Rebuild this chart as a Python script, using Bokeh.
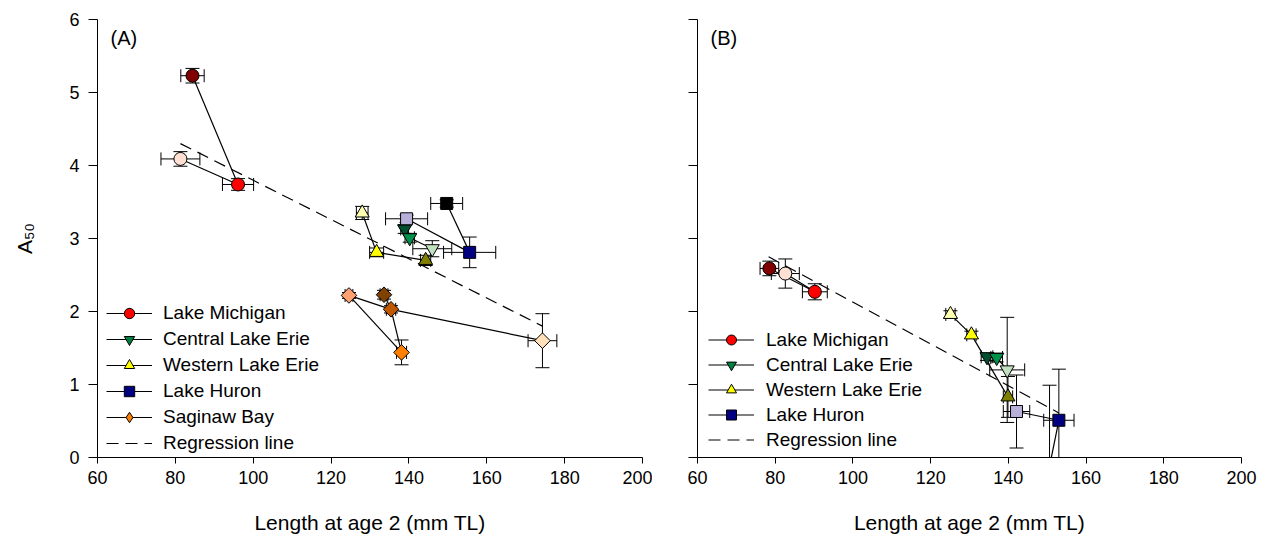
import math
from bokeh.plotting import figure
from bokeh.models import (Range1d, FixedTicker, Legend, LegendItem, Label,
                          CustomJSTickFormatter)
from bokeh.layouts import row
from bokeh.embed import file_html
from bokeh.resources import INLINE

FONT = "Liberation Sans"
NAN = float("nan")

x_ticks = [60, 80, 100, 120, 140, 160, 180, 200]
y_ticks = [0, 1, 2, 3, 4, 5, 6]
x_title = "Length at age 2 (mm TL)"
y_title = "A\u2085\u2080"

# ---------------- Panel A data ----------------
a_mich_x = [84.4, 81.3, 96.1]
a_mich_y = [5.23, 4.09, 3.74]
a_mich_xe = [3.0, 5.0, 4.0]
a_mich_ye = [0.10, 0.10, 0.08]
a_mich_c = ["#800000", "#FFE0D2", "#FF0000"]
a_mich_links = [(0, 2), (1, 2)]

a_cent_x = [138.9, 140.2, 146.0]
a_cent_y = [3.13, 3.01, 2.86]
a_cent_xe = [1.0, 1.2, 5.0]
a_cent_ye = [0.06, 0.06, 0.11]
a_cent_c = ["#005030", "#00904A", "#C0E0C0"]
a_cent_links = [(0, 1), (1, 2)]

a_west_x = [128.0, 131.7, 144.3]
a_west_y = [3.35, 2.81, 2.70]
a_west_xe = [1.5, 1.8, 1.3]
a_west_ye = [0.09, 0.06, 0.07]
a_west_c = ["#FFFFB0", "#FFFF00", "#808000"]
a_west_links = [(0, 1), (1, 2)]

a_huron_x = [149.7, 139.4, 155.6]
a_huron_y = [3.48, 3.27, 2.81]
a_huron_xe = [4.1, 5.4, 6.7]
a_huron_ye = [0.05, 0.05, 0.21]
a_huron_c = ["#000000", "#B8B0D8", "#000080"]
a_huron_links = [(0, 2), (1, 2)]

a_sag_x = [124.6, 133.6, 135.4, 138.1, 174.3]
a_sag_y = [2.22, 2.23, 2.03, 1.44, 1.60]
a_sag_xe = [1.0, 1.0, 1.2, 1.3, 3.7]
a_sag_ye = [0.04, 0.06, 0.05, 0.17, 0.37]
a_sag_c = ["#FFA070", "#804000", "#C05800", "#FF8000", "#FFE0B8"]
a_sag_links = [(0, 2), (0, 3), (2, 3), (2, 4), (1, 2)]

a_reg_x = [81.3, 174.3]
a_reg_y = [4.30, 1.80]

# ---------------- Panel B data ----------------
b_mich_x = [78.5, 82.6, 90.2]
b_mich_y = [2.59, 2.52, 2.27]
b_mich_xe = [2.4, 3.6, 3.2]
b_mich_ye = [0.10, 0.20, 0.11]
b_mich_c = ["#800000", "#FFE0D2", "#FF0000"]
b_mich_links = [(0, 2), (1, 2)]

b_cent_x = [134.5, 137.0, 139.7]
b_cent_y = [1.38, 1.37, 1.20]
b_cent_xe = [1.5, 1.5, 4.5]
b_cent_ye = [0.05, 0.06, 0.72]
b_cent_c = ["#005030", "#00904A", "#C0E0C0"]
b_cent_links = [(0, 1), (1, 2)]

b_west_x = [125.1, 130.5, 139.9]
b_west_y = [1.96, 1.68, 0.83]
b_west_xe = [1.2, 1.2, 1.2]
b_west_ye = [0.05, 0.05, 0.28]
b_west_c = ["#FFFFB0", "#FFFF00", "#808000"]
b_west_links = [(0, 1), (1, 2)]

b_huron_x = [150.6, 142.1, 153.0]
b_huron_y = [-0.12, 0.63, 0.51]
b_huron_xe = [0.0, 3.4, 3.9]
b_huron_ye = [1.11, 0.50, 0.70]
b_huron_c = ["#000000", "#B8B0D8", "#000080"]
b_huron_links = [(0, 2), (1, 2)]

b_reg_x = [78.3, 153.0]
b_reg_y = [2.75, 0.61]

# marker styles: (marker, size, angle, legend colour, legend marker)
STY = {
    "Lake Michigan": ("circle", 13, 0.0, "#FF0000", "circle"),
    "Central Lake Erie": ("inverted_triangle", 14, 0.0, "#008040", "inverted_triangle"),
    "Western Lake Erie": ("triangle", 14, 0.0, "#FFFF00", "triangle"),
    "Lake Huron": ("square", 12, 0.0, "#000080", "square"),
    "Saginaw Bay": ("square", 11, math.pi / 4, "#FF8000", "diamond"),
}

panel_a = [
    ("Lake Michigan", a_mich_x, a_mich_y, a_mich_xe, a_mich_ye, a_mich_c, a_mich_links),
    ("Central Lake Erie", a_cent_x, a_cent_y, a_cent_xe, a_cent_ye, a_cent_c, a_cent_links),
    ("Western Lake Erie", a_west_x, a_west_y, a_west_xe, a_west_ye, a_west_c, a_west_links),
    ("Lake Huron", a_huron_x, a_huron_y, a_huron_xe, a_huron_ye, a_huron_c, a_huron_links),
    ("Saginaw Bay", a_sag_x, a_sag_y, a_sag_xe, a_sag_ye, a_sag_c, a_sag_links),
]
panel_b = [
    ("Lake Michigan", b_mich_x, b_mich_y, b_mich_xe, b_mich_ye, b_mich_c, b_mich_links),
    ("Central Lake Erie", b_cent_x, b_cent_y, b_cent_xe, b_cent_ye, b_cent_c, b_cent_links),
    ("Western Lake Erie", b_west_x, b_west_y, b_west_xe, b_west_ye, b_west_c, b_west_links),
    ("Lake Huron", b_huron_x, b_huron_y, b_huron_xe, b_huron_ye, b_huron_c, b_huron_links),
]


def make_panel(groups, reg_x, reg_y, tag, left_border, right_border, show_ylabels,
               leg_loc, leg_gh, leg_standoff):
    p = figure(frame_width=545 if show_ylabels else 544, frame_height=438,
               x_range=Range1d(60, 200), y_range=Range1d(0, 6),
               output_backend="svg", toolbar_location=None,
               min_border_left=left_border, min_border_right=right_border,
               min_border_top=19, min_border_bottom=70)
    p.outline_line_color = None
    p.grid.visible = False
    p.background_fill_color = "white"
    p.border_fill_color = "white"

    p.xaxis.ticker = FixedTicker(ticks=x_ticks)
    p.yaxis.ticker = FixedTicker(ticks=y_ticks)
    for ax in (p.xaxis[0], p.yaxis[0]):
        ax.axis_line_color = "black"
        ax.axis_line_width = 1
        ax.major_tick_line_color = "black"
        ax.major_tick_in = 0
        ax.minor_tick_line_color = None
        ax.major_label_text_font = FONT
        ax.major_label_text_font_size = "18px"
        ax.major_label_text_color = "black"
        ax.axis_label_text_font = FONT
        ax.axis_label_text_font_style = "normal"
        ax.axis_label_text_color = "black"
        ax.axis_label_text_font_size = "21px"
    p.xaxis.major_tick_out = 6
    p.yaxis.major_tick_out = 9
    p.xaxis.major_label_standoff = 7
    p.yaxis.major_label_standoff = 9
    p.xaxis.axis_label = x_title
    p.xaxis.axis_label_standoff = 24
    if show_ylabels:
        p.yaxis.axis_label = y_title
        p.yaxis.axis_label_standoff = 30
    else:
        p.yaxis.formatter = CustomJSTickFormatter(code="return ''")

    # error bars
    for name, xs, ys, xe, ye, cols, links in groups:
        hx = [i for i in range(len(xs)) if xe[i] > 0]
        p.segment(x0=[xs[i] - xe[i] for i in hx], y0=[ys[i] for i in hx],
                  x1=[xs[i] + xe[i] for i in hx], y1=[ys[i] for i in hx],
                  line_color="black", line_width=1)
        p.scatter(x=[xs[i] - xe[i] for i in hx] + [xs[i] + xe[i] for i in hx],
                  y=[ys[i] for i in hx] * 2, marker="dash", size=13,
                  angle=math.pi / 2, line_color="black", line_width=1)
        p.segment(x0=xs, y0=[a - b for a, b in zip(ys, ye)],
                  x1=xs, y1=[a + b for a, b in zip(ys, ye)],
                  line_color="black", line_width=1)
        p.scatter(x=list(xs) * 2,
                  y=[a - b for a, b in zip(ys, ye)] + [a + b for a, b in zip(ys, ye)],
                  marker="dash", size=14, line_color="black", line_width=1)

    # connecting lines
    for name, xs, ys, xe, ye, cols, links in groups:
        p.segment(x0=[xs[i] for i, j in links], y0=[ys[i] for i, j in links],
                  x1=[xs[j] for i, j in links], y1=[ys[j] for i, j in links],
                  line_color="black", line_width=1.2)

    # regression
    reg = p.line(x=reg_x, y=reg_y, line_color="black", line_width=1.2, line_dash="12 7")

    # markers
    items = []
    for name, xs, ys, xe, ye, cols, links in groups:
        m, s, ang, lc, lm = STY[name]
        p.scatter(x=xs, y=ys, marker=m, size=s, angle=ang, fill_color=cols,
                  line_color="black", line_width=1)
        # legend-only renderers (no visible data)
        l_line = p.line(x=[NAN, NAN], y=[NAN, NAN], line_color="black", line_width=1.2)
        l_mark = p.scatter(x=[NAN], y=[NAN], marker=lm, size=s, fill_color=lc,
                           line_color="black", line_width=1)
        items.append(LegendItem(label=name, renderers=[l_line, l_mark], index=0))
    items.append(LegendItem(label="Regression line", renderers=[reg]))

    leg = Legend(items=items, location=leg_loc, glyph_width=46, glyph_height=leg_gh,
                 spacing=0, label_standoff=leg_standoff, padding=0, margin=0,
                 label_text_font=FONT, label_text_font_size="19px",
                 label_text_color="black", label_height=leg_gh,
                 background_fill_alpha=0, border_line_color=None)
    p.add_layout(leg)

    p.add_layout(Label(x=13, y=420, x_units="screen", y_units="screen", text=tag,
                       text_font=FONT, text_font_size="20px", text_color="black",
                       text_baseline="middle", text_align="left"))
    return p


pa = make_panel(panel_a, a_reg_x, a_reg_y, "(A)", 97, 10, True, (9, 1), 26, 11)
pb = make_panel(panel_b, b_reg_x, b_reg_y, "(B)", 45, 24, False, (11, 5), 25, 12)

layout = row(pa, pb)
open("out.html", "w").write(file_html(layout, INLINE))
